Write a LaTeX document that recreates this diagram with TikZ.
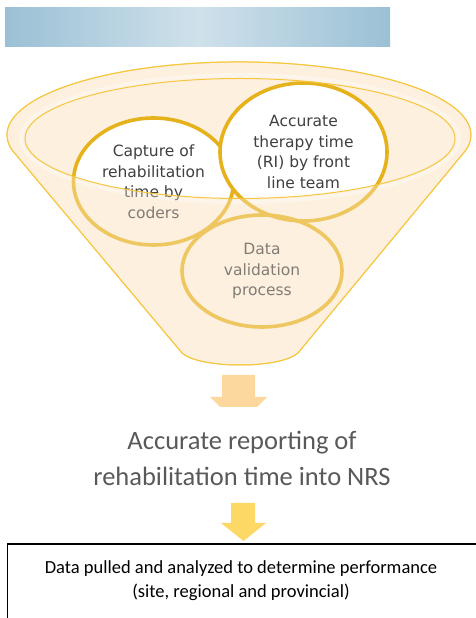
\documentclass[tikz,border=0pt]{standalone}
\usepackage{fontspec}
\usetikzlibrary{shapes.geometric}
\newfontfamily\circfont{DejaVu Sans}
\newfontfamily\calfont{Carlito}
\definecolor{barEdge}{HTML}{9BC0D5}
\definecolor{barMid}{HTML}{CFE1EB}
\definecolor{funnelFill}{HTML}{FDF0DF}
\definecolor{funnelLine}{HTML}{F6C73E}
\definecolor{ringGold}{HTML}{E6B21C}
\definecolor{ringText}{HTML}{3F3F3F}
\definecolor{midText}{HTML}{595959}
\definecolor{arrowPeach}{HTML}{FDD89E}
\definecolor{arrowYellow}{HTML}{FDD865}

\begin{document}
\begin{tikzpicture}[x=1pt,y=1pt,
  ring/.style={ellipse, draw=ringGold, line width=3.6pt, inner sep=0pt,
    align=center, text=ringText, font=\circfont\fontsize{15.5}{20.5}\selectfont},
  rimline/.style={draw=funnelLine, line width=1pt},
  funnelbody/.style={insert path={(12,468) arc[start angle=191.9, end angle=-11.9, x radius=232, y radius=73]
      -- (298,265) .. controls (280,249) and (200,249) .. (182,265) -- cycle}},
  innerrim/.style={insert path={(240,479.5) ellipse[x radius=215, y radius=60]}},
]
\useasboundingbox (0,0) rectangle (475,618);

% header bar with a horizontal blue shading
\node[draw=none, left color=barEdge, right color=barEdge, middle color=barMid,
  minimum width=385, minimum height=39, inner sep=0pt, anchor=south west] (bar) at (5,571) {};

% funnel body and rim
\path[fill=funnelFill, rimline, funnelbody];
\draw[white, opacity=0.55, line width=4pt] (240,479.5) ellipse[x radius=219, y radius=63.5];

% first ring: white inside the rim opening only
\begin{scope}
  \clip[innerrim];
  \fill[white] (153.5,436.5) ellipse[x radius=80, y radius=63.5];
\end{scope}
\node[ring, minimum width=160, minimum height=127] (capture) at (153.5,436.5)
  {Capture of\\rehabilitation\\time by\\coders};

% second ring lies over the first one
\begin{scope}
  \clip[innerrim];
  \fill[white] (303.5,466) ellipse[x radius=83.5, y radius=69];
\end{scope}
\node[ring, minimum width=167, minimum height=138] (therapy) at (303.5,466)
  {Accurate\\therapy time\\(RI) by front\\line team};

% third ring, wholly below the rim
\node[ring, minimum width=160, minimum height=112] (valid) at (262,347)
  {Data\\validation\\process};

% translucent funnel wall in front of the rings
\fill[funnelFill, opacity=0.35, even odd rule, funnelbody, innerrim];
\path[rimline, funnelbody];
\path[rimline, innerrim];

% arrows
\fill[arrowPeach] (222,243) -- (255,243) -- (255,221) -- (267,221) -- (257,211)
  -- (220,211) -- (210,221) -- (222,221) -- cycle;
\node[font=\calfont\fontsize{26.5}{36}\selectfont, text=midText, align=center] (report) at (242,160)
  {Accurate reporting of\\rehabilitation time into NRS};
\fill[arrowYellow] (231,115) -- (255,115) -- (255,95) -- (266,95) -- (243.5,77)
  -- (221,95) -- (231,95) -- cycle;

% result box
\draw[black, line width=1.5pt] (7.5,-5) -- (7.5,74) -- (480,74);
\node[font=\calfont\fontsize{18.5}{24}\selectfont, align=center] (perf) at (241,37)
  {Data pulled and analyzed to determine performance\\(site, regional and provincial)};
\end{tikzpicture}
\end{document}
